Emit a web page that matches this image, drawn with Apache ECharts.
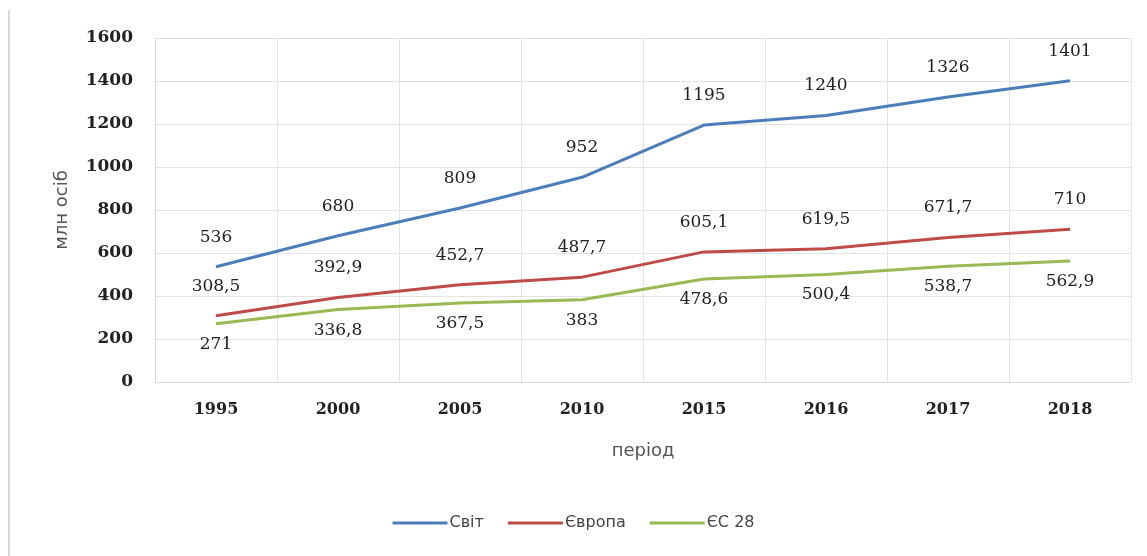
<!DOCTYPE html>
<html>
<head>
<meta charset="utf-8">
<script src="https://cdn.jsdelivr.net/npm/echarts@6/dist/echarts.min.js"></script>
<style>
  html, body { margin: 0; padding: 0; background: #fff; }
  #chart { width: 1147px; height: 556px; }
</style>
</head>
<body>
<div id="chart"></div>
<script>
const years = ['1995', '2000', '2005', '2010', '2015', '2016', '2017', '2018']
const world = [536, 680, 809, 952, 1195, 1240, 1326, 1401]
const europe = [308.5, 392.9, 452.7, 487.7, 605.1, 619.5, 671.7, 710]
const eu28 = [271, 336.8, 367.5, 383, 478.6, 500.4, 538.7, 562.9]

const fmt = p => String(p.value).replace('.', ',')
const labelFont = { fontFamily: 'DejaVu Serif', fontSize: 17, color: '#222', formatter: fmt }

let chart = echarts.init(document.getElementById('chart'))
chart.setOption({
  animation: false,
  grid: { left: 155, right: 16, top: 38, bottom: 174 },
  graphic: [
    { type: 'line', shape: { x1: 9, y1: 10, x2: 9, y2: 556 }, style: { stroke: '#d9d9d9', lineWidth: 2 } }
  ],
  legend: {
    bottom: 20,
    left: 'center',
    icon: 'rect',
    itemWidth: 55,
    itemHeight: 3,
    itemGap: 24,
    textStyle: { fontFamily: 'DejaVu Sans', fontSize: 16, color: '#444', padding: [0, 0, 0, -3] }
  },
  xAxis: {
    type: 'category',
    data: years,
    name: 'період',
    nameLocation: 'middle',
    nameGap: 60,
    nameTextStyle: { fontFamily: 'DejaVu Sans', fontSize: 18, color: '#555' },
    axisTick: { show: false },
    axisLine: { lineStyle: { color: '#d9d9d9' } },
    axisLabel: { fontFamily: 'DejaVu Serif', fontSize: 16, fontWeight: 'bold', color: '#222', margin: 20 },
    splitLine: { show: true, lineStyle: { color: '#e3e3e3' } }
  },
  yAxis: {
    type: 'value',
    min: 0,
    max: 1600,
    interval: 200,
    name: 'млн осіб',
    nameLocation: 'middle',
    nameGap: 84,
    nameTextStyle: { fontFamily: 'DejaVu Sans', fontSize: 18, color: '#555' },
    axisLine: { show: true, lineStyle: { color: '#d9d9d9' } },
    axisLabel: { fontFamily: 'DejaVu Serif', fontSize: 17, fontWeight: 'bold', color: '#222', margin: 22, formatter: v => String(v) },
    splitLine: { lineStyle: { color: '#e3e3e3' } }
  },
  series: [
    {
      name: 'Світ',
      type: 'line',
      data: world,
      symbol: 'circle',
      symbolSize: 0.1,
      lineStyle: { width: 3, color: '#4a7ebb' },
      itemStyle: { color: '#4a7ebb' },
      label: Object.assign({ show: true, position: 'top', distance: 21 }, labelFont)
    },
    {
      name: 'Європа',
      type: 'line',
      data: europe,
      symbol: 'circle',
      symbolSize: 0.1,
      lineStyle: { width: 3, color: '#be4b48' },
      itemStyle: { color: '#be4b48' },
      label: Object.assign({ show: true, position: 'top', distance: 21 }, labelFont)
    },
    {
      name: 'ЄС 28',
      type: 'line',
      data: eu28,
      symbol: 'circle',
      symbolSize: 0.1,
      lineStyle: { width: 3, color: '#98b954' },
      itemStyle: { color: '#98b954' },
      label: Object.assign({ show: true, position: 'bottom', distance: 12 }, labelFont)
    }
  ]
})

window.addEventListener('resize', () => {
  chart.resize()
})
</script>
</body>
</html>
